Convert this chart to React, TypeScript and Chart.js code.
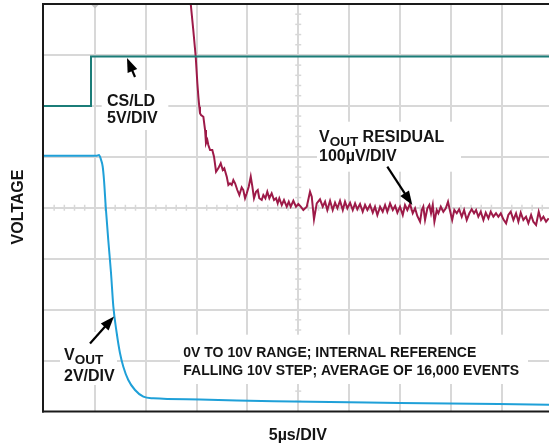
import React, { useEffect, useRef } from "react";
import { Chart, registerables } from "chart.js";

Chart.register(...registerables);

// ---- grid (5 µs/div horizontally, screen divisions vertically) ----
const xGridTicks = [5, 10, 15, 20, 25, 30, 35, 40, 45];
const yGridTicks = [-3, -2, -1, 0, 1, 2, 3];
const xMaxUs = 49.66;

// ---- CS/LD trace (5V/DIV), in screen divisions ----
const csldTime = [0, 4.62, 4.62, 49.66];
const csldDiv = [2.0, 2.0, 2.97, 2.97];

// ---- VOUT trace (2V/DIV), in screen divisions ----
const voutTime = [0, 5.18, 5.41, 5.61, 5.77, 5.9, 6.07, 6.32, 6.59, 6.82, 7.15, 7.47, 7.8, 8.29, 8.95, 9.77, 10.75, 15.34, 22.62, 35.01, 49.66];
const voutDiv = [1.02, 1.02, 1.035, 0.94, 0.81, 0.545, 0.02, -0.633, -1.281, -1.942, -2.459, -2.851, -3.12, -3.381, -3.578, -3.709, -3.741, -3.764, -3.8, -3.833, -3.866];

// ---- VOUT residual trace (100µV/DIV), in screen divisions ----
const residualTime = [
  14.19, 14.43, 14.68, 14.92, 15.08, 15.18, 15.27, 15.34, 15.44, 15.67,
  15.84, 15.93, 16.06, 16.16, 16.33, 16.55, 16.72, 16.92, 17.14, 17.38,
  17.58, 17.73, 17.97, 18.13, 18.29, 18.46, 18.62, 18.79, 19.01, 19.21,
  19.44, 19.6, 19.77, 19.94, 20.13, 20.33, 20.49, 20.65, 20.85, 21.02,
  21.17, 21.41, 21.57, 21.77, 21.96, 22.16, 22.39, 22.62, 22.82, 22.98,
  23.14, 23.38, 23.6, 23.87, 24.07, 24.26, 24.52, 24.78, 25.01, 25.25,
  25.5, 25.84, 26.16, 26.33, 26.55, 26.82, 27.14, 27.41, 27.64, 27.86,
  28.13, 28.39, 28.62, 28.85, 29.11, 29.38, 29.6, 29.83, 30.1, 30.36,
  30.59, 30.81, 31.08, 31.34, 31.57, 31.8, 32.06, 32.33, 32.55, 32.78,
  33.05, 33.31, 33.54, 33.76, 34.03, 34.3, 34.53, 34.75, 35.01, 35.28,
  35.5, 35.73, 35.99, 36.26, 36.49, 36.71, 36.98, 37.15, 37.3, 37.47,
  37.7, 37.89, 38.06, 38.23, 38.39, 38.62, 38.78, 39.02, 39.27, 39.51,
  39.73, 39.91, 40.14, 40.35, 40.59, 40.82, 41.08, 41.31, 41.57, 41.83,
  42.06, 42.29, 42.49, 42.71, 42.95, 43.21, 43.44, 43.7, 43.93, 44.19,
  44.45, 44.68, 44.92, 45.17, 45.44, 45.66, 45.9, 46.16, 46.42, 46.65,
  46.88, 47.14, 47.4, 47.63, 47.9, 48.12, 48.39, 48.65, 48.88, 49.11,
  49.37, 49.63,
];
const residualDiv = [
  4.47, 4.0, 3.49, 2.965, 2.443, 2.18, 1.984, 1.854, 1.821, 1.787,
  1.526, 1.265, 1.33, 1.232, 1.134, 1.134, 1.002, 0.708, 0.774, 0.873,
  0.741, 0.774, 0.61, 0.447, 0.48, 0.447, 0.545, 0.48, 0.348, 0.25,
  0.401, 0.348, 0.186, 0.284, 0.413, 0.61, 0.413, 0.186, 0.315, 0.348,
  0.186, 0.152, 0.25, 0.186, 0.315, 0.186, 0.284, 0.152, 0.186, 0.087,
  0.186, 0.054, 0.152, 0.021, 0.119, 0.021, 0.138, 0.021, 0.074, 0.021,
  -0.044, 0.021, 0.315, 0.217, -0.227, 0.087, 0.166, 0.021, 0.119, -0.044,
  0.138, -0.044, 0.099, -0.011, 0.138, -0.044, 0.119, -0.011, 0.099, -0.044,
  0.087, -0.03, 0.074, -0.078, 0.054, -0.044, 0.054, -0.097, 0.021, -0.142,
  0.021, -0.078, 0.054, -0.078, 0.087, -0.044, 0.034, -0.097, 0.021, -0.142,
  0.054, -0.044, 0.074, -0.109, -0.011, -0.162, -0.274, -0.044, 0.021, -0.24,
  -0.011, 0.054, -0.109, 0.054, -0.274, -0.044, -0.109, 0.021, -0.078, -0.011,
  0.119, -0.044, -0.24, -0.044, -0.109, -0.03, -0.176, -0.044, -0.24, -0.109,
  -0.03, -0.109, -0.044, -0.176, -0.078, -0.24, -0.097, -0.207, -0.078, -0.176,
  -0.109, -0.176, -0.109, -0.227, -0.305, -0.142, -0.078, -0.24, -0.109, -0.274,
  -0.097, -0.24, -0.176, -0.305, -0.142, -0.274, -0.339, -0.078, -0.24, -0.176,
  -0.274, -0.207,
];

// ---- text ----
const yTitle = "VOLTAGE";
const xTitle = "5µs/DIV";
const csldLabel = ["CS/LD", "5V/DIV"];
const residualLabel = ["V", "OUT", " RESIDUAL", "100µV/DIV"];
const voutLabel = ["V", "OUT", "2V/DIV"];
const noteLines = ["0V TO 10V RANGE; INTERNAL REFERENCE", "FALLING 10V STEP; AVERAGE OF 16,000 EVENTS"];

const COL_TEAL = "#1b7d78";
const COL_BLUE = "#1fa0d8";
const COL_RED = "#9d1a48";
const COL_GRID = "#d8d8d8";
const COL_TEXT = "#141414";
const FONT = "'Liberation Sans', Arial, Helvetica, sans-serif";

const zip = (xs: number[], ys: number[]) => xs.map((x, i) => ({ x, y: ys[i] }));

function arrow(ctx: CanvasRenderingContext2D, x1: number, y1: number, x2: number, y2: number) {
  const ang = Math.atan2(y2 - y1, x2 - x1);
  const hl = 14;
  const hw = 5.2;
  const bx = x2 - hl * Math.cos(ang);
  const by = y2 - hl * Math.sin(ang);
  ctx.strokeStyle = "#000";
  ctx.lineWidth = 2.2;
  ctx.beginPath();
  ctx.moveTo(x1, y1);
  ctx.lineTo(bx + 2 * Math.cos(ang), by + 2 * Math.sin(ang));
  ctx.stroke();
  ctx.fillStyle = "#000";
  ctx.beginPath();
  ctx.moveTo(x2, y2);
  ctx.lineTo(bx + hw * Math.sin(ang), by - hw * Math.cos(ang));
  ctx.lineTo(bx - hw * Math.sin(ang), by + hw * Math.cos(ang));
  ctx.closePath();
  ctx.fill();
}

const decorPlugin = {
  id: "scopeDecor",
  beforeDatasetsDraw(chart: any) {
    const { ctx, chartArea: a, scales } = chart;
    const x = scales.x;
    const y = scales.y;
    ctx.save();
    // minor ticks on center lines
    ctx.strokeStyle = COL_GRID;
    ctx.lineWidth = 1.5;
    const cx = x.getPixelForValue(25);
    const cy = y.getPixelForValue(0);
    for (let i = 1; i < 50; i++) {
      const px = x.getPixelForValue(i);
      if (px > a.right) break;
      ctx.beginPath();
      ctx.moveTo(px, cy - 3);
      ctx.lineTo(px, cy + 3);
      ctx.stroke();
    }
    for (let j = -19; j <= 19; j++) {
      const py = y.getPixelForValue(j * 0.2);
      ctx.beginPath();
      ctx.moveTo(cx - 3, py);
      ctx.lineTo(cx + 3, py);
      ctx.stroke();
    }
    // white label boxes over the grid
    ctx.fillStyle = "#ffffff";
    const boxes = [
      [101.7, 90, 168.3, 130],
      [317, 121.7, 461, 171.7],
      [60, 332, 117, 385],
      [180, 334.7, 528, 384],
    ];
    boxes.forEach(([x0, y0, x1, y1]) => ctx.fillRect(x0, y0, x1 - x0, y1 - y0));
    ctx.restore();
  },
  afterDatasetsDraw(chart: any) {
    const { ctx } = chart;
    ctx.save();
    // frame
    ctx.fillStyle = "#1a1a1a";
    ctx.fillRect(42, 3, 2, 409.5);
    ctx.fillRect(42, 3, 507, 2);
    ctx.fillRect(42, 410.5, 507, 2);
    // trigger marker
    ctx.fillStyle = "#c4c4c4";
    ctx.beginPath();
    ctx.moveTo(91.5, 5);
    ctx.lineTo(98.5, 5);
    ctx.lineTo(95, 8.5);
    ctx.closePath();
    ctx.fill();

    ctx.fillStyle = COL_TEXT;
    ctx.textBaseline = "alphabetic";
    ctx.textAlign = "left";
    const big = `bold 16px ${FONT}`;
    const sub = `bold 13.5px ${FONT}`;
    const small = `bold 14px ${FONT}`;

    // CS/LD
    ctx.font = big;
    ctx.fillText(csldLabel[0], 107, 105.5);
    ctx.fillText(csldLabel[1], 107, 123);

    // VOUT RESIDUAL
    let px = 319;
    ctx.font = big;
    ctx.fillText(residualLabel[0], px, 141.7);
    px += ctx.measureText(residualLabel[0]).width;
    ctx.font = sub;
    ctx.fillText(residualLabel[1], px, 145.7);
    px += ctx.measureText(residualLabel[1]).width;
    ctx.font = big;
    ctx.fillText(residualLabel[2], px, 141.7);
    ctx.fillText(residualLabel[3], 319, 161);

    // VOUT 2V/DIV
    px = 64;
    ctx.font = big;
    ctx.fillText(voutLabel[0], px, 359.7);
    px += ctx.measureText(voutLabel[0]).width;
    ctx.font = sub;
    ctx.fillText(voutLabel[1], px, 363.7);
    ctx.font = big;
    ctx.fillText(voutLabel[2], 64, 381.3);

    // note
    ctx.font = small;
    ctx.fillText(noteLines[0], 183.3, 357);
    ctx.fillText(noteLines[1], 183.3, 374.7);

    // axis titles
    ctx.font = big;
    ctx.textAlign = "center";
    ctx.fillText(xTitle, 297.8, 440);
    ctx.save();
    ctx.translate(23.3, 207);
    ctx.rotate(-Math.PI / 2);
    ctx.fillText(yTitle, 0, 0);
    ctx.restore();

    // arrows
    arrow(ctx, 135, 77, 127, 58);
    arrow(ctx, 387.3, 166.7, 412.3, 205);
    arrow(ctx, 90, 343.5, 114, 316.5);
    ctx.restore();
  },
};

export default function App() {
  const ref = useRef<HTMLCanvasElement | null>(null);
  useEffect(() => {
    if (!ref.current) return;
    const gridScale = (ticks: number[]) => ({
      type: "linear" as const,
      afterBuildTicks: (scale: any) => {
        scale.ticks = ticks.map((v) => ({ value: v }));
      },
      grid: { color: COL_GRID, lineWidth: 2, drawTicks: false },
      border: { display: false },
      ticks: { display: false },
      title: { display: false },
    });
    const chart = new Chart(ref.current, {
      type: "line",
      data: {
        datasets: [
          {
            label: "CS/LD",
            data: zip(csldTime, csldDiv),
            borderColor: COL_TEAL,
            borderWidth: 2,
            pointRadius: 0,
            tension: 0,
          },
          {
            label: "VOUT",
            data: zip(voutTime, voutDiv),
            borderColor: COL_BLUE,
            borderWidth: 2,
            pointRadius: 0,
            cubicInterpolationMode: "monotone",
          },
          {
            label: "VOUT RESIDUAL",
            data: zip(residualTime, residualDiv),
            borderColor: COL_RED,
            borderWidth: 2,
            pointRadius: 0,
            tension: 0,
          },
        ],
      },
      options: {
        responsive: false,
        animation: false,
        devicePixelRatio: 1,
        layout: { padding: { left: 44, right: 0, top: 4, bottom: 34.5 } },
        plugins: { legend: { display: false }, tooltip: { enabled: false } },
        scales: {
          x: { ...gridScale(xGridTicks), min: 0, max: xMaxUs },
          y: { ...gridScale(yGridTicks), min: -4, max: 4 },
        },
      },
      plugins: [decorPlugin],
    } as any);
    return () => chart.destroy();
  }, []);
  return (
    <div style={{ position: "absolute", left: 0, top: 0, width: 549, height: 446, background: "#fff" }}>
      <canvas ref={ref} width={549} height={446} style={{ display: "block" }} />
    </div>
  );
}
